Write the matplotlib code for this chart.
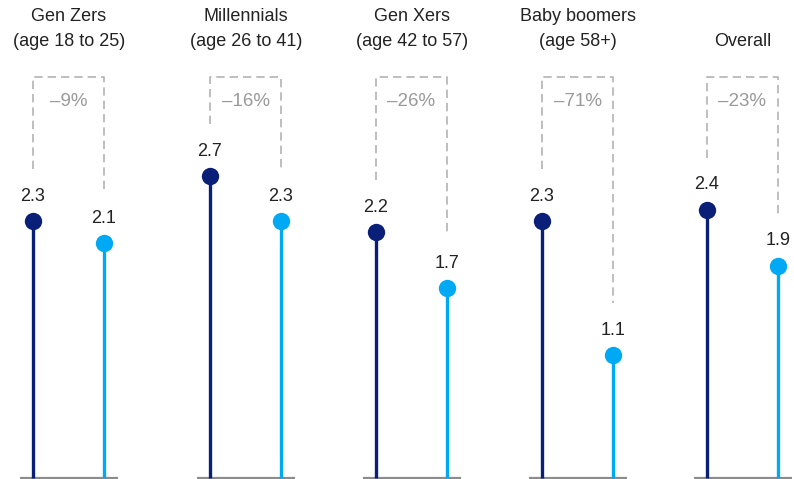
import matplotlib
matplotlib.use("Agg")
import matplotlib.pyplot as plt

# data
groups = ["Gen Zers", "Millennials", "Gen Xers", "Baby boomers", "Overall"]
ages = ["(age 18 to 25)", "(age 26 to 41)", "(age 42 to 57)", "(age 58+)", ""]
before = [2.3, 2.7, 2.2, 2.3, 2.4]
after = [2.1, 2.3, 1.7, 1.1, 1.9]
changes = ["–9%", "–16%", "–26%", "–71%", "–23%"]

dark = "#0a1f78"
light = "#00a9f4"

plt.rcParams["font.family"] = ["Liberation Sans", "DejaVu Sans"]

fig = plt.figure(figsize=(7.94, 4.79), dpi=100)
ax = fig.add_axes([0, 0, 1, 1])
scale = 111.7  # px per unit
ax.set_xlim(0, 794)
ax.set_ylim(-1 / scale, 478 / scale)
ax.axis("off")

def py(p):
    # pixel row -> value
    return (478 - p) / scale

xs = [33, 210, 376, 542, 707]
gap = 71
fs = 13

for i, x0 in enumerate(xs):
    x1 = x0 + gap
    b, a = before[i], after[i]
    # baseline
    ax.plot([x0 - 13, x0 + 85], [0, 0], color="#8c8c8c", lw=1.6, solid_capstyle="butt")
    # stems
    ax.plot([x0, x0], [0, b], color=dark, lw=2.4, solid_capstyle="butt")
    ax.plot([x1, x1], [0, a], color=light, lw=2.4, solid_capstyle="butt")
    ax.plot(x0, b, "o", color=dark, ms=12.5, mec="none")
    ax.plot(x1, a, "o", color=light, ms=12.5, mec="none")
    # value labels
    ax.annotate(f"{b:.1f}", (x0, b), xytext=(0, 18), textcoords="offset points",
                ha="center", va="center", fontsize=fs, color="#222222")
    ax.annotate(f"{a:.1f}", (x1, a), xytext=(0, 18), textcoords="offset points",
                ha="center", va="center", fontsize=fs, color="#222222")
    # dashed bracket
    top = py(77)
    ax.plot([x0, x0, x1, x1], [b + 52 / scale, top, top, a + 52 / scale],
            color="#b3b3b3", lw=1.2, ls=(0, (5, 3)))
    ax.text(x0 + gap / 2, py(102), changes[i], ha="center", va="center",
            fontsize=13.5, color="#9a9a9a")
    # titles
    cx = x0 + 36
    if ages[i]:
        ax.text(cx, py(17), groups[i], ha="center", va="center", fontsize=fs, color="#222222")
        ax.text(cx, py(41), ages[i], ha="center", va="center", fontsize=fs, color="#222222")
    else:
        ax.text(cx, py(41), groups[i], ha="center", va="center", fontsize=fs, color="#222222")

fig.savefig("out.png", dpi=100)
